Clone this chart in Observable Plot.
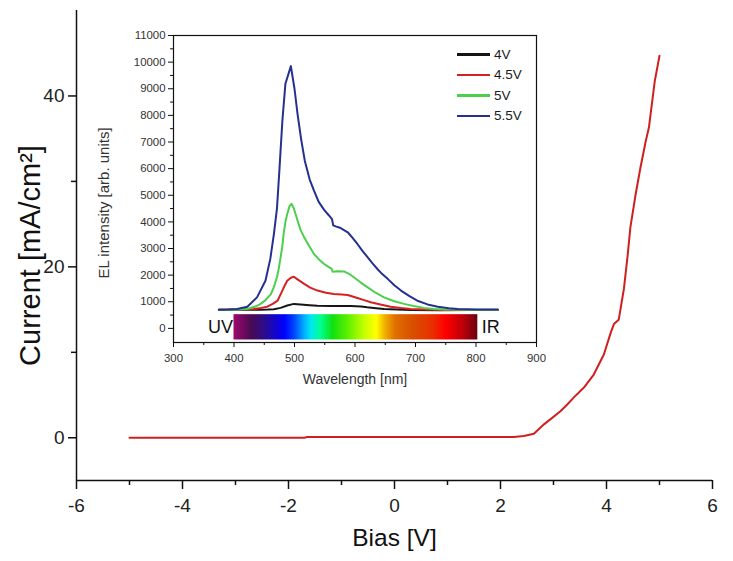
<!DOCTYPE html>
<html><head><meta charset="utf-8">
<script src="https://cdn.jsdelivr.net/npm/d3@7"></script>
<script src="https://cdn.jsdelivr.net/npm/@observablehq/plot@0.6"></script>
<style>
body{margin:0;background:#fff;font-family:"Liberation Sans",Arial,sans-serif;}
#wrap{position:relative;width:733px;height:561px;overflow:hidden;background:#fff;}
#main,#inset{position:absolute;}
#main{left:0;top:0}
#inset{left:80px;top:15px}
#legend{position:absolute;left:457px;top:44px;font-size:13.5px;color:#1a1a1a;line-height:1}
.row{display:flex;align-items:center;height:20.6px}
.sw{width:33px;height:2.6px;margin-right:4px}
</style></head><body>
<div id="wrap"><div id="main"></div><div id="inset"></div><div id="legend"></div></div>
<script>
// ---------- Main I–V curve ----------
const biasV    = [-5, -3, -1.7, -1.65, 0, 1, 2.0, 2.25, 2.44, 2.63, 2.72, 2.82, 2.94, 3.13, 3.26, 3.38, 3.57, 3.76, 3.95, 4.08, 4.14, 4.23, 4.33, 4.40, 4.45, 4.55, 4.64, 4.74, 4.80, 4.91, 5.0];
const currentJ = [0, 0, 0, 0.08, 0.08, 0.08, 0.08, 0.1, 0.2, 0.47, 1.0, 1.57, 2.15, 3.1, 3.9, 4.7, 5.85, 7.4, 9.75, 12.3, 13.3, 13.8, 17.5, 21.4, 24.6, 28.5, 31.6, 34.7, 36.3, 41.7, 44.7];
const xMajorTicks = [-6, -4, -2, 0, 2, 4, 6];
const xMinorTicks = [-5, -3, -1, 1, 3, 5];
const yMajorTicks = [0, 20, 40];
const yMinorTicks = [10, 30];
const xLabel = "Bias [V]";
const yLabel = "Current [mA/cm\u00B2]";

// ---------- Inset EL spectra ----------
const seriesNames  = ["4V", "4.5V", "5V", "5.5V"];
const seriesColors = ["#151515", "#d42222", "#4ccf4c", "#25308f"];
const spec4V = [[375,700],[420,700],[444,700],[456,705],[466,715],[477,770],[488,860],[499,920],[510,900],[525,870],[538,850],[560,845],[593,840],[610,820],[620,790],[635,760],[648,730],[670,705],[692,690],[740,685],[790,690],[836,695]];
const spec45V = [[375,700],[410,705],[433,730],[445,770],[455,815],[464,920],[472,1040],[476,1230],[480,1420],[484,1620],[488,1790],[494,1900],[499,1940],[505,1840],[516,1670],[526,1530],[538,1420],[552,1340],[565,1290],[578,1270],[588,1255],[596,1200],[604,1140],[615,1060],[626,980],[642,900],[659,815],[676,765],[692,730],[720,705],[747,690],[790,690],[836,695]];
const spec5V = [[375,700],[400,702],[422,730],[435,820],[444,920],[452,1060],[461,1290],[466,1560],[471,1920],[474,2250],[477,2670],[480,3100],[482,3550],[485,4000],[488,4300],[492,4600],[495,4680],[499,4500],[505,4050],[510,3700],[516,3420],[524,3100],[532,2800],[540,2600],[549,2420],[558,2280],[561,2250],[563,2130],[571,2150],[582,2140],[590,2050],[598,1920],[609,1730],[621,1540],[634,1340],[648,1165],[665,1020],[681,920],[697,840],[714,770],[730,730],[747,705],[790,700],[836,700]];
const spec55V = [[375,700],[390,705],[405,730],[422,815],[438,1165],[452,1790],[460,2610],[466,3550],[471,4500],[475,5930],[480,7810],[485,9190],[494,9850],[500,9000],[505,8060],[511,7100],[517,6300],[525,5600],[532,5180],[540,4750],[549,4450],[557,4240],[562,4100],[564,3870],[568,3830],[575,3780],[588,3610],[596,3400],[604,3170],[612,2920],[621,2670],[629,2440],[637,2230],[645,2040],[654,1860],[665,1620],[676,1420],[690,1210],[703,1040],[720,900],[737,815],[755,760],[770,730],[800,710],[836,705]];
const spectra = [spec4V, spec45V, spec5V, spec55V];
const wlMajorTicks = [300, 400, 500, 600, 700, 800, 900];
const wlMinorTicks = [350, 450, 550, 650, 750, 850];
const elMajorTicks = [0,1000,2000,3000,4000,5000,6000,7000,8000,9000,10000,11000];
const elMinorTicks = [500,1500,2500,3500,4500,5500,6500,7500,8500,9500,10500];
const insetXLabel = "Wavelength [nm]";
const insetYLabel = "EL intensity [arb. units]";
// visible-spectrum colour bar (wavelength extent and intensity extent)
const specBar = [{x1: 400, x2: 803, y1: -436, y2: 515}];
const bandLabels = [{label: "UV", wl: 400, level: 40}, {label: "IR", wl: 803, level: 40}];
const specStopWl    = [400, 429, 451, 484, 500, 517, 528, 544, 564, 589, 617, 636, 650, 667, 695, 728, 750, 778, 803];
const specStopColor = ["#a0086c","#4a0a52","#2c0c8c","#0000ff","#0044ff","#00b0ff","#00e8f0","#00ff90","#10e010","#60f000","#c8ff00","#ffff00","#f2b000","#e07000","#d85000","#e83000","#ff0000","#c00008","#6a0010"];

const font = "Liberation Sans, Arial, sans-serif";
const fmt = d => String(d);

const ivData = biasV.map((b, i) => ({bias: b, current: currentJ[i]}));

const main = Plot.plot({
  width: 733, height: 561,
  marginLeft: 76, marginRight: 21, marginTop: 10, marginBottom: 81,
  style: {fontFamily: font, background: "transparent", color: "#111"},
  x: {domain: [-6, 6]},
  y: {domain: [-5, 50]},
  marks: [
    Plot.axisX(xMinorTicks, {tickSize: 5, tickFormat: () => "", label: null, strokeWidth: 1.5}),
    Plot.axisX(xMajorTicks, {tickSize: 9, tickPadding: 9, fontSize: 19, tickFormat: fmt, label: null, strokeWidth: 1.5, fill: "#222"}),
    Plot.axisY(yMinorTicks, {tickSize: 5, tickFormat: () => "", label: null, strokeWidth: 1.5}),
    Plot.axisY(yMajorTicks, {tickSize: 8, tickPadding: 4, fontSize: 19, tickFormat: fmt, label: null, strokeWidth: 1.5, fill: "#222"}),
    Plot.ruleX([-6], {stroke: "#111", strokeWidth: 1.5}),
    Plot.ruleY([-5], {stroke: "#111", strokeWidth: 1.5}),
    Plot.line(ivData, {x: "bias", y: "current", stroke: "#d0201e", strokeWidth: 2}),
    Plot.text([xLabel], {text: d => d, frameAnchor: "bottom", dy: 65, fontSize: 24.5, fill: "#111"}),
    Plot.text([yLabel], {text: d => d, frameAnchor: "left", textAnchor: "middle", dx: -46, dy: 10, rotate: -90, fontSize: 29, fill: "#111"})
  ]
});
document.getElementById("main").appendChild(main);

const inset = Plot.plot({
  width: 470, height: 385,
  marginLeft: 93, marginRight: 14, marginTop: 20, marginBottom: 58,
  style: {fontFamily: font, background: "transparent", color: "#111"},
  x: {domain: [300, 900]},
  y: {domain: [-530, 11000]},
  marks: [
    Plot.rect(specBar, {x1: "x1", x2: "x2", y1: "y1", y2: "y2", fill: "url(#specGrad)"}),
    Plot.text([bandLabels[0]], {x: "wl", y: "level", text: "label", textAnchor: "end", dx: -1, fontSize: 18, fill: "#111"}),
    Plot.text([bandLabels[1]], {x: "wl", y: "level", text: "label", textAnchor: "start", dx: 4, fontSize: 18, fill: "#111"}),
    ...spectra.map((s, i) => Plot.line(s, {x: d => d[0], y: d => d[1], stroke: seriesColors[i], strokeWidth: 2})),
    Plot.frame({stroke: "#111", strokeWidth: 1.2}),
    Plot.axisX(wlMinorTicks, {tickSize: 3, tickFormat: () => "", label: null}),
    Plot.axisX(wlMajorTicks, {tickSize: 5, tickPadding: 6, fontSize: 11.4, tickFormat: fmt, label: null, fill: "#333"}),
    Plot.axisY(elMinorTicks, {tickSize: 3, tickFormat: () => "", label: null}),
    Plot.axisY(elMajorTicks, {tickSize: 5, tickPadding: 3, fontSize: 11.4, tickFormat: fmt, label: null, fill: "#333"}),
    Plot.text([insetXLabel], {text: d => d, frameAnchor: "bottom", dy: 41, fontSize: 14, fill: "#333"}),
    Plot.text([insetYLabel], {text: d => d, frameAnchor: "left", textAnchor: "middle", dx: -69, dy: 14, rotate: -90, fontSize: 15, fill: "#333"})
  ]
});
// gradient definition for the colour bar
const ns = "http://www.w3.org/2000/svg";
const defs = document.createElementNS(ns, "defs");
const lg = document.createElementNS(ns, "linearGradient");
lg.setAttribute("id", "specGrad");
lg.setAttribute("x1", "0"); lg.setAttribute("x2", "1"); lg.setAttribute("y1", "0"); lg.setAttribute("y2", "0");
const wl0 = specStopWl[0], wl1 = specStopWl[specStopWl.length - 1];
specStopWl.forEach((w, i) => {
  const st = document.createElementNS(ns, "stop");
  st.setAttribute("offset", ((w - wl0) / (wl1 - wl0)).toFixed(4));
  st.setAttribute("stop-color", specStopColor[i]);
  lg.appendChild(st);
});
defs.appendChild(lg);
inset.insertBefore(defs, inset.firstChild);
document.getElementById("inset").appendChild(inset);

// legend
const legend = document.getElementById("legend");
seriesNames.forEach((n, i) => {
  const row = document.createElement("div");
  row.className = "row";
  const sw = document.createElement("span");
  sw.className = "sw";
  sw.style.background = seriesColors[i];
  const tx = document.createElement("span");
  tx.textContent = n;
  row.appendChild(sw); row.appendChild(tx);
  legend.appendChild(row);
});
</script>
</body></html>
